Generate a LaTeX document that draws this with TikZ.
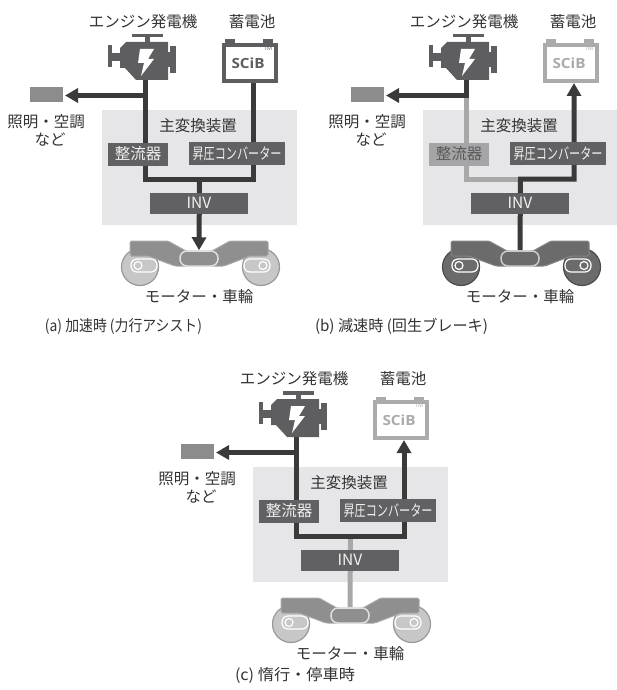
\documentclass[tikz,border=0pt]{standalone}
\usepackage{fontspec}
\usepackage{graphicx}
\usetikzlibrary{arrows.meta}
\newfontfamily\jp{Noto Sans CJK JP}
\newfontfamily\logo{Open Sans}

\definecolor{zonegray}{HTML}{E6E6E8}
\definecolor{boxdark}{HTML}{616163}
\definecolor{boxlight}{HTML}{A5A5A7}
\definecolor{engcol}{HTML}{5E5E60}
\definecolor{wiredark}{HTML}{3A3A3A}
\definecolor{wirelight}{HTML}{A8A8A8}
\definecolor{loadgray}{HTML}{8C8C8C}
\definecolor{labeltext}{HTML}{333333}
\definecolor{boxtext}{HTML}{F0F0F0}
\definecolor{batdark}{HTML}{5E5E60}
\definecolor{batlight}{HTML}{ABABAB}

\pgfdeclarelayer{zone}
\pgfdeclarelayer{wires}
\pgfsetlayers{zone,wires,main}

\tikzset{
  lbl/.style={font=\jp\fontsize{15.5}{18}\selectfont, text=labeltext, inner sep=0pt},
  boxlbl/.style={font=\jp\fontsize{15.5}{18}\selectfont, inner sep=0pt, minimum height=23pt},
  wire/.style={line width=5pt, draw=wiredark},
  lwire/.style={line width=5pt, draw=wirelight},
  tip/.style={-{Triangle[width=14pt,length=13pt]}},
}

% one panel: #1 name prefix, #2 offset
\newcommand\powerpanel[2]{%
\begin{scope}[shift={#2}]
  \begin{pgfonlayer}{zone}
    \node[fill=zonegray, inner sep=0pt, minimum width=195pt, minimum height=115pt] (#1-zone) at (199.5,167.5) {};
  \end{pgfonlayer}
  % labels
  \node[lbl] (#1-englbl) at (143,22) {エンジン発電機};
  \node[lbl] (#1-batlbl) at (252,22) {蓄電池};
  \node[lbl] (#1-loadlbl) at (46,122) {照明・空調};
  \node[lbl] (#1-loadlbl2) at (50,140) {など};
  \node[lbl] (#1-zonelbl) at (198,126) {主変換装置};
  \node[lbl] (#1-motorlbl) at (199,297) {モーター・車輪};
  % engine generator
  \node[inner sep=0pt, minimum width=68pt, minimum height=48pt] (#1-eng) at (142,58) {};
  \fill[engcol] (132,34) rectangle (163,37.5);
  \fill[engcol] (145,37) rectangle (150,43);
  \fill[engcol] (120,48) -- (126,42) -- (168,42) -- (168,80) -- (136,80) -- (125,68) -- (120,68) -- cycle;
  \fill[engcol] (166,52) rectangle (171,67);
  \fill[engcol] (170,46) rectangle (176,73);
  \fill[engcol] (111,53) rectangle (121,61);
  \fill[engcol] (107.5,45) rectangle (112,67);
  \fill[white] (140,49) -- (154,49) -- (148,59) -- (154,59) -- (141,76) -- (144,63) -- (138,63) -- cycle;
  % battery
  \fill[batcol] (225,39.5) rectangle (235,44);
  \fill[batcol] (263,39.5) rectangle (273,44);
  \node[draw=batcol, line width=4pt, fill=white, inner sep=0pt, minimum width=52pt, minimum height=36pt] (#1-bat) at (250,63) {};
  \node[inner sep=0pt, text=batcol, font=\logo\bfseries\fontsize{14}{14}\selectfont] (#1-scib) at (248,63) {\resizebox{33pt}{\height}{SCiB}};
  \node[inner sep=0pt, text=batcol, font=\logo\fontsize{5.5}{6}\selectfont] (#1-tm) at (268,49) {TM};
  % auxiliary load
  \node[fill=loadgray, inner sep=0pt, minimum width=33pt, minimum height=15pt] (#1-load) at (46.5,94.5) {};
  % converter boxes
  \node[boxlbl, fill=rectfill, text=recttext, minimum width=60pt] (#1-rect) at (138,154) {整流器};
  \node[boxlbl, fill=boxdark, text=boxtext, minimum width=96pt] (#1-conv) at (237,153.5) {\resizebox{89pt}{\height}{昇圧コンバーター}};
  \node[boxlbl, fill=boxdark, text=boxtext, minimum width=98pt, minimum height=21pt] (#1-inv) at (199,203) {INV};
  % bogie: wheels, axle boxes, frame, motor
  \filldraw[fill=wheelfill, draw=wheelrim, line width=1.2pt] (140,267) circle[radius=18.5];
  \filldraw[fill=wheelfill, draw=wheelrim, line width=1.2pt] (261,267) circle[radius=18.5];
  \filldraw[fill=wheelfill, draw=white, line width=1.2pt, rounded corners=6pt] (131,259) rectangle (157,272);
  \filldraw[fill=wheelfill, draw=white, line width=1.2pt] (138,265.5) circle[radius=4];
  \filldraw[fill=wheelfill, draw=white, line width=1.2pt, rounded corners=6pt] (244,259) rectangle (270,272);
  \filldraw[fill=wheelfill, draw=white, line width=1.2pt] (263,265.5) circle[radius=4];
  \filldraw[fill=framefill, draw=frameline, line width=1pt, rounded corners=1.5pt]
    (130,241) -- (168,241) -- (186,251) -- (212,251) -- (230,241) -- (268,241)
    -- (268,256) -- (250,256) -- (224,266) -- (175,266) -- (148,256) -- (130,256) -- cycle;
  \node[fill=framefill, draw=motorline, line width=1.5pt, rounded corners=7pt, inner sep=0pt,
        minimum width=38pt, minimum height=15pt] (#1-motor) at (199,258.5) {};
  % wiring points
  \coordinate (#1-e0) at (145.5,76);
  \coordinate (#1-et) at (145.5,95.5);
  \coordinate (#1-lt) at (65,95.5);
  \coordinate (#1-ec) at (145.5,179);
  \coordinate (#1-jc) at (199.5,179);
  \coordinate (#1-bc) at (253,179);
  \coordinate (#1-b0) at (253,83);
\end{scope}}

\begin{document}
\begin{tikzpicture}[x=1pt,y=-1pt]
\useasboundingbox (0,0) rectangle (617,690);

% (a) acceleration
\colorlet{batcol}{batdark}
\colorlet{rectfill}{boxdark}
\colorlet{recttext}{boxtext}
\colorlet{wheelfill}{black!22}
\colorlet{wheelrim}{black!40}
\colorlet{framefill}{black!44}
\colorlet{frameline}{black!34}
\colorlet{motorline}{black!12}
\powerpanel{a}{(0,0)}
\begin{pgfonlayer}{wires}
  \draw[wire] (a-e0) -- (a-ec) -- (a-bc) -- (a-b0);
  \draw[wire,tip] (a-et) -- (a-lt);
  \draw[wire,tip] (a-jc) -- (a-motor.north);
\end{pgfonlayer}
\node[lbl] (a-caption) at (123.5,326) {\resizebox{157pt}{\height}{(a) 加速時 (力行アシスト)}};

% (b) regenerative braking
\colorlet{batcol}{batlight}
\colorlet{rectfill}{boxlight}
\colorlet{recttext}{black!65}
\colorlet{wheelfill}{black!58}
\colorlet{wheelrim}{black!70}
\colorlet{framefill}{black!58}
\colorlet{frameline}{black!48}
\colorlet{motorline}{black!20}
\powerpanel{b}{(321,0)}
\begin{pgfonlayer}{wires}
  \draw[lwire] (b-et) -- (b-ec) -- (b-jc);
  \draw[wire,tip] (b-e0) -- (b-et) -- (b-lt);
  \draw[wire,tip] (b-motor.north) -- (b-jc) -- (b-bc) -- (b-b0);
\end{pgfonlayer}
\node[lbl] (b-caption) at (401.5,326) {\resizebox{173pt}{\height}{(b) 減速時 (回生ブレーキ)}};

% (c) coasting / standstill
\colorlet{batcol}{batlight}
\colorlet{rectfill}{boxdark}
\colorlet{recttext}{boxtext}
\colorlet{wheelfill}{black!22}
\colorlet{wheelrim}{black!40}
\colorlet{framefill}{black!44}
\colorlet{frameline}{black!34}
\colorlet{motorline}{black!12}
\powerpanel{c}{(151,357)}
\begin{pgfonlayer}{wires}
  \draw[lwire] (c-jc) -- (c-motor.north);
  \draw[wire,tip] (c-e0) -- (c-et) -- (c-lt);
  \draw[wire,tip] (c-et) -- (c-ec) -- (c-bc) -- (c-b0);
\end{pgfonlayer}
\node[lbl] (c-caption) at (295,675) {\resizebox{120pt}{\height}{(c) 惰行・停車時}};
\end{tikzpicture}
\end{document}
